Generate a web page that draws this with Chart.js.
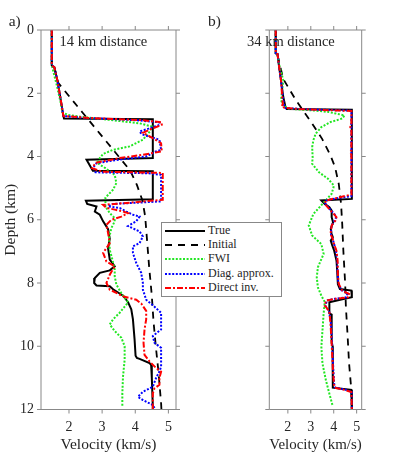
<!DOCTYPE html>
<html lang="en">
<head>
<meta charset="UTF-8">
<title>Velocity profiles</title>
<script src="https://cdn.jsdelivr.net/npm/chart.js"></script>
<style>
  body { margin: 0; background: #fff; }
  #wrap { position: relative; width: 399px; height: 456px; overflow: hidden; }
  #wrap canvas { position: absolute; left: 0; top: 0; }
  #legend {
    position: absolute; left: 161px; top: 222px; width: 119px; height: 73px;
    background: #fff; border: 1px solid #888;
    font-family: "Liberation Serif", "Times New Roman", serif; font-size: 12px; color: #262626;
  }
  #legend .row { position: absolute; left: 0; height: 14px; }
  #legend svg { position: absolute; left: 3px; top: 3px; }
  #legend span { position: absolute; left: 46px; top: -1px; line-height: 14px; white-space: nowrap; }
</style>
</head>
<body>
<div id="wrap">
  <canvas id="chartA" width="399" height="456"></canvas>
  <canvas id="chartB" width="399" height="456"></canvas>
  <div id="legend"></div>
</div>

<script>
// depth ticks (km) and velocity ticks (km/s)
const depthTicks = [0, 2, 4, 6, 8, 10, 12];
const velTicks = [2, 3, 4, 5];

// series as [velocity km/s, depth km]
// a) 14 km distance
const trueA = [[1.48,0],[1.48,1.12],[1.56,1.18],[1.65,1.6],[1.75,2.2],[1.83,2.72],[1.85,2.8],[4.53,2.82],[4.53,4.05],[2.53,4.1],[2.72,4.45],[4.53,4.47],[4.53,5.35],[2.51,5.4],[2.55,5.5],[2.83,5.58],[2.78,5.74],[2.93,5.84],[3.03,6.05],[3.18,6.3],[3.23,6.6],[3.18,6.9],[3.23,7.26],[3.38,7.47],[3.23,7.6],[2.93,7.68],[2.78,7.84],[2.76,8.0],[2.83,8.08],[3.23,8.1],[3.33,8.2],[3.63,8.4],[3.78,8.6],[3.88,8.83],[3.93,9.15],[3.98,9.79],[4.01,10.3],[4.05,10.37],[4.13,10.4],[4.43,10.53],[4.48,10.6],[4.5,11.0],[4.53,11.9],[4.53,12]];
const initA = [[1.48,0],[1.48,1.12],[1.56,1.2],[1.68,1.68],[2.4,2.6],[2.95,3.3],[3.5,4.0],[3.85,4.45],[4.05,4.9],[4.22,5.4],[4.3,5.9],[4.36,6.7],[4.42,7.5],[4.5,8.4],[4.55,9.2],[4.62,10.0],[4.7,10.8],[4.78,11.8],[4.79,12]];
const fwiA = [[1.48,0],[1.48,1.12],[1.5,1.2],[1.62,1.7],[1.75,2.3],[1.8,2.6],[1.95,2.68],[2.33,2.74],[3.2,2.84],[4.13,2.95],[4.5,3.05],[4.45,3.2],[4.23,3.47],[3.83,3.68],[3.33,3.79],[3.03,3.92],[2.93,4.05],[2.85,4.2],[3.1,4.37],[3.38,4.58],[3.43,4.84],[3.33,5.05],[3.1,5.3],[3.1,5.58],[3.23,5.79],[3.38,5.95],[3.38,6.05],[3.28,6.26],[3.21,6.58],[3.23,6.95],[3.31,7.26],[3.38,7.58],[3.38,7.79],[3.43,8.05],[3.58,8.32],[3.73,8.53],[3.78,8.62],[3.68,8.75],[3.53,8.94],[3.33,9.15],[3.23,9.31],[3.38,9.52],[3.58,9.73],[3.68,10.0],[3.68,10.43],[3.63,10.96],[3.61,11.49],[3.61,11.9]];
const diagA = [[1.48,0],[1.48,1.12],[1.56,1.18],[1.65,1.6],[1.75,2.2],[1.83,2.72],[2.5,2.78],[4.0,2.85],[4.73,2.92],[4.73,3.0],[4.4,3.12],[4.13,3.21],[4.2,3.3],[4.73,3.47],[4.78,3.79],[4.6,3.85],[4.33,4.0],[3.5,4.1],[2.83,4.21],[2.73,4.35],[2.8,4.5],[4.4,4.53],[4.78,4.58],[4.78,5.42],[3.33,5.5],[3.18,5.58],[3.53,5.63],[3.73,5.74],[3.93,5.84],[4.13,5.9],[4.03,6.05],[3.78,6.2],[4.13,6.37],[4.23,6.53],[4.13,6.74],[3.93,6.84],[3.93,7.05],[4.03,7.37],[4.18,7.68],[4.23,8.0],[4.23,8.21],[4.33,8.53],[4.53,8.7],[4.63,8.8],[4.78,8.94],[4.78,9.47],[4.53,9.68],[4.58,9.89],[4.78,10.05],[4.78,10.64],[4.73,10.8],[4.63,11.0],[4.53,11.28],[4.23,11.44],[4.08,11.6],[4.23,11.7],[4.53,11.86],[4.58,11.95]];
const directA = [[1.48,0],[1.48,1.12],[1.56,1.18],[1.65,1.6],[1.75,2.2],[1.83,2.72],[2.6,2.78],[4.2,2.85],[4.8,2.92],[4.8,3.0],[4.5,3.12],[4.23,3.25],[4.5,3.4],[4.78,3.58],[4.8,3.84],[4.2,3.95],[3.53,4.05],[2.8,4.2],[2.7,4.37],[3.0,4.48],[4.83,4.52],[4.83,5.37],[3.03,5.53],[3.13,5.62],[3.38,5.68],[3.63,5.74],[3.78,5.79],[3.58,5.9],[3.28,6.0],[3.13,6.16],[3.18,6.42],[3.23,6.74],[3.03,7.05],[3.13,7.32],[3.38,7.47],[3.23,7.74],[3.13,8.0],[3.23,8.21],[3.63,8.42],[4.03,8.53],[4.18,8.65],[4.33,8.88],[4.33,9.15],[4.28,9.47],[4.25,9.89],[4.28,10.27],[4.43,10.48],[4.63,10.69],[4.78,10.8],[4.73,11.0],[4.73,11.22],[4.58,11.33],[4.53,11.49],[4.53,12]];

// b) 34 km distance
const trueB = [[1.47,0],[1.47,0.74],[1.55,0.76],[1.6,1.06],[1.7,1.59],[1.8,2.12],[1.9,2.45],[1.95,2.5],[4.79,2.52],[4.79,5.34],[3.46,5.39],[3.61,5.5],[3.81,5.6],[3.91,5.71],[3.91,5.92],[3.97,6.08],[3.87,6.29],[3.91,6.45],[3.96,6.55],[3.87,6.66],[3.93,6.8],[4.02,6.98],[4.12,7.29],[4.15,7.61],[4.18,8.03],[4.27,8.19],[4.77,8.24],[4.79,8.45],[4.47,8.5],[3.81,8.61],[3.81,8.96],[3.91,9.0],[3.91,9.9],[3.95,10.0],[3.96,11.31],[4.77,11.38],[4.79,12]];
const initB = [[1.47,0],[1.47,0.74],[1.55,0.8],[1.8,1.55],[2.35,2.22],[3.06,2.96],[3.5,3.45],[3.86,3.97],[4.06,4.34],[4.22,4.87],[4.32,5.5],[4.37,6.13],[4.42,6.98],[4.5,8.03],[4.53,8.75],[4.6,9.6],[4.67,10.55],[4.77,11.4],[4.79,12]];
const fwiB = [[1.47,0],[1.47,0.74],[1.55,0.8],[1.62,1.1],[1.8,1.59],[1.7,2.22],[1.8,2.38],[2.05,2.49],[3.06,2.54],[3.76,2.59],[4.47,2.7],[4.37,2.8],[3.86,2.91],[3.46,3.07],[3.21,3.28],[3.11,3.49],[3.06,3.7],[3.08,4.02],[3.06,4.23],[3.36,4.5],[3.76,4.71],[4.01,4.92],[3.91,5.18],[3.51,5.5],[3.11,5.82],[2.91,6.18],[3.06,6.5],[3.46,6.77],[3.56,7.08],[3.31,7.5],[3.26,7.82],[3.31,8.14],[3.46,8.4],[3.61,8.6],[3.56,8.96],[3.51,9.49],[3.46,10.02],[3.51,10.55],[3.66,11.08],[3.81,11.5],[3.96,11.9]];
const diagB = [[1.47,0],[1.47,0.74],[1.55,0.76],[1.6,1.06],[1.7,1.59],[1.78,2.12],[1.85,2.42],[1.9,2.47],[3.0,2.51],[4.77,2.55],[4.77,5.25],[4.3,5.3],[3.7,5.38],[3.63,5.48],[3.85,5.68],[4.03,5.82],[4.1,5.93],[4.02,6.05],[3.9,6.2],[3.88,6.45],[3.95,6.6],[4.03,6.8],[4.1,7.0],[4.15,7.3],[4.17,7.7],[4.2,8.0],[4.33,8.22],[4.6,8.33],[4.55,8.45],[4.05,8.5],[3.7,8.55],[3.64,8.72],[3.8,8.9],[3.88,9.3],[3.93,9.9],[3.98,10.7],[4.02,11.2],[4.05,11.3],[4.5,11.37],[4.78,11.44],[4.79,12]];
const directB = [[1.47,0],[1.47,0.74],[1.55,0.76],[1.6,1.06],[1.7,1.59],[1.75,2.1],[1.78,2.36],[1.72,2.4],[1.85,2.46],[2.5,2.5],[3.5,2.53],[4.77,2.56],[4.77,3.0],[4.72,3.07],[4.77,3.15],[4.77,3.8],[4.72,3.87],[4.77,3.95],[4.77,5.2],[4.27,5.29],[3.66,5.39],[3.61,5.5],[3.86,5.71],[4.01,5.82],[4.12,5.92],[4.07,6.03],[3.91,6.18],[3.86,6.45],[3.96,6.61],[4.01,6.77],[4.12,6.98],[4.17,7.29],[4.18,7.71],[4.22,8.03],[4.37,8.24],[4.67,8.35],[4.62,8.45],[4.07,8.5],[3.66,8.56],[3.61,8.72],[3.66,8.75],[3.81,8.91],[3.86,9.28],[3.91,9.92],[3.96,10.66],[4.01,11.19],[4.05,11.31],[4.47,11.38],[4.77,11.45],[4.79,12]];

const seriesNames = ['True', 'Initial', 'FWI', 'Diag. approx.', 'Direct inv.'];

// line styles, same order as seriesNames
const styles = [
  { color: '#000000', dash: [],           width: 2 },
  { color: '#000000', dash: [7, 6],       width: 1.8 },
  { color: '#22e622', dash: [2, 1.6],     width: 2 },
  { color: '#0000ff', dash: [2, 1.6],     width: 2 },
  { color: '#ff0000', dash: [6, 2, 2, 2], width: 2 }
];

const serif = '"Liberation Serif", "Times New Roman", serif';
const textColor = '#262626';
const axisColor = '#888';

// box and outward ticks on all four sides
const frameTicks = {
  id: 'frameTicks',
  afterDraw(chart, args, opts) {
    const { ctx, chartArea: a, scales } = chart;
    ctx.save();
    ctx.strokeStyle = axisColor;
    ctx.lineWidth = 1;
    ctx.beginPath();
    ctx.rect(a.left, a.top, a.right - a.left, a.bottom - a.top);
    velTicks.forEach(v => {
      const px = scales.x.getPixelForValue(v);
      ctx.moveTo(px, a.bottom); ctx.lineTo(px, a.bottom + 4);
      ctx.moveTo(px, a.top); ctx.lineTo(px, a.top - 4);
    });
    depthTicks.forEach(d => {
      const py = scales.y.getPixelForValue(d);
      ctx.moveTo(a.left - 4, py); ctx.lineTo(a.left, py);
      ctx.moveTo(a.right, py); ctx.lineTo(a.right + 4, py);
    });
    ctx.stroke();
    // panel letter and caption
    ctx.fillStyle = textColor;
    ctx.font = '15.5px ' + serif;
    ctx.fillText(opts.letter, opts.letterX, 25.5);
    ctx.font = '14.5px ' + serif;
    ctx.fillText(opts.caption, opts.captionX, 45.5);
    ctx.restore();
  }
};

function makePanel(id, data, xMin, xMax, padding, showDepth, labels) {
  const datasets = data.map((pts, i) => ({
    label: seriesNames[i],
    data: pts.map(p => ({ x: p[0], y: p[1] })),
    showLine: true,
    borderColor: styles[i].color,
    borderDash: styles[i].dash,
    borderWidth: styles[i].width,
    pointRadius: 0,
    tension: 0,
    order: data.length - i   // last series on top
  }));

  return new Chart(document.getElementById(id), {
    type: 'scatter',
    data: { datasets: datasets },
    options: {
      responsive: false,
      animation: false,
      layout: { padding: padding },
      plugins: {
        legend: { display: false },
        tooltip: { enabled: false },
        frameTicks: labels
      },
      scales: {
        x: {
          type: 'linear',
          position: 'bottom',
          min: xMin,
          max: xMax,
          grid: { display: false, drawTicks: false },
          border: { display: false },
          afterBuildTicks: s => { s.ticks = velTicks.map(v => ({ value: v })); },
          afterFit: s => { s.height = 46.5; },
          ticks: { color: textColor, font: { family: serif, size: 14 }, padding: 9, maxRotation: 0, autoSkip: false },
          title: { display: true, text: 'Velocity (km/s)', color: textColor, font: { family: serif, size: 15.5 }, padding: { top: 0, bottom: 2 } }
        },
        y: {
          type: 'linear',
          display: showDepth,
          reverse: true,
          min: 0,
          max: 12,
          grid: { display: false, drawTicks: false },
          border: { display: false },
          afterBuildTicks: s => { s.ticks = depthTicks.map(v => ({ value: v })); },
          afterFit: s => { s.width = 41; },
          ticks: { color: textColor, font: { family: serif, size: 14 }, padding: 7 },
          title: { display: true, text: 'Depth (km)', color: textColor, font: { family: serif, size: 15.5 }, padding: { top: 1.4, bottom: 0 } }
        }
      }
    },
    plugins: [frameTicks]
  });
}

makePanel('chartA', [trueA, initA, fwiA, diagA, directA], 1.155, 5.23,
  { left: 0, right: 223, top: 30, bottom: 0 }, true,
  { letter: 'a)', letterX: 8.7, caption: '14 km distance', captionX: 59.5 });

makePanel('chartB', [trueB, initB, fwiB, diagB, directB], 1.19, 5.22,
  { left: 228.3, right: 37.3, top: 30, bottom: 0 }, false,
  { letter: 'b)', letterX: 208, caption: '34 km distance', captionX: 247 });

// legend box
const legend = document.getElementById('legend');
seriesNames.forEach((name, i) => {
  const row = document.createElement('div');
  row.className = 'row';
  row.style.top = (1 + i * 14.2) + 'px';
  row.style.width = '119px';
  const st = styles[i];
  row.innerHTML =
    '<svg width="42" height="8"><line x1="0" y1="4" x2="40" y2="4" stroke="' + st.color +
    '" stroke-width="' + st.width + '" stroke-dasharray="' + (st.dash.length ? st.dash.join(' ') : 'none') + '"/></svg>' +
    '<span>' + name + '</span>';
  legend.appendChild(row);
});
</script>
</body>
</html>
